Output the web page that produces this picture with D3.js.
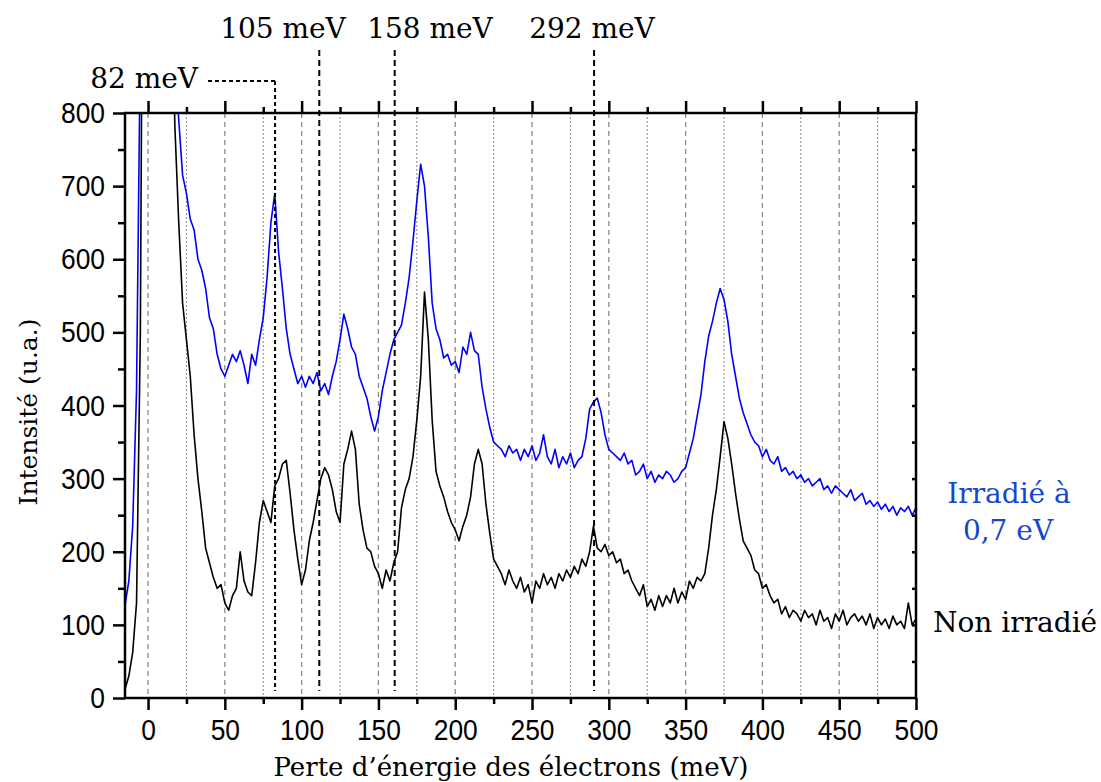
<!DOCTYPE html>
<html><head><meta charset="utf-8">
<script src="https://cdn.jsdelivr.net/npm/d3@7"></script>
<style>body{margin:0;background:#fff}</style>
</head><body>
<script>
// ---- data ----
const energyStep = 2.5;
const energyStart = -15;
const irradie = [127,160,235,420,900,1500,2000,2000,2000,1800,1500,1200,1000,880,790,715,690,655,640,600,585,560,520,505,470,450,440,455,470,460,475,455,430,470,455,490,520,575,650,690,610,560,505,470,450,430,440,425,440,430,445,420,430,415,440,460,490,525,505,480,470,440,425,410,385,365,385,420,445,470,490,500,510,540,575,625,680,730,700,630,540,505,490,465,470,455,460,445,480,470,500,475,470,425,395,370,350,345,340,330,345,335,340,325,340,330,345,325,335,360,330,320,340,315,330,320,335,315,325,330,355,395,405,410,390,360,340,335,330,325,335,320,325,305,310,320,300,310,295,305,300,310,305,295,300,310,315,335,355,385,415,460,495,515,540,560,545,515,470,440,410,390,375,360,350,345,330,340,325,320,330,310,315,305,310,300,305,295,300,290,295,300,285,290,280,290,285,280,275,285,270,275,280,265,270,262,268,258,265,255,262,250,260,255,262,250,260];
const nonIrradie = [12,30,62,130,500,1500,2000,2000,2000,2000,1800,1400,1000,780,650,540,490,440,360,300,255,205,185,165,150,155,130,120,140,150,200,160,145,140,185,240,270,255,240,290,300,320,325,280,230,190,155,175,215,240,270,300,315,305,285,255,240,320,340,365,340,265,230,205,200,180,170,150,175,160,185,200,260,285,300,330,380,440,555,490,380,310,290,275,255,240,230,215,235,250,275,320,340,320,265,225,190,180,170,155,175,160,150,165,145,155,130,160,150,170,155,165,150,170,160,175,165,180,170,190,180,200,235,205,200,210,195,200,185,190,170,175,160,150,140,155,125,135,120,140,125,140,130,150,130,145,135,160,150,165,160,170,205,250,285,330,378,355,320,280,245,215,205,195,175,170,150,155,140,130,135,115,125,110,120,115,105,120,110,115,100,120,105,110,95,115,105,120,100,110,115,105,112,100,115,95,110,100,108,95,112,100,105,95,130,100,108,100];
const xTicks = [0,50,100,150,200,250,300,350,400,450,500];
const yTicks = [0,100,200,300,400,500,600,700,800];
const peakLines = [82.7, 111.5, 160.6, 290.4];
const peakLabels = ["82 meV","105 meV","158 meV","292 meV"];
const seriesNames = ["Irradié à|0,7 eV", "Non irradié"];

// ---- layout ----
const W = 1101, H = 782;
const m = {left:125, right:185, top:113, bottom:84};
const svg = d3.select("body").append("svg").attr("width",W).attr("height",H);
const x = d3.scaleLinear().domain([-15,500]).range([m.left, W-m.right]);
const y = d3.scaleLinear().domain([0,800]).range([H-m.bottom, m.top]);
const x0 = x.range()[0], x1 = x.range()[1], y0 = y.range()[0], y1 = y.range()[1];

svg.append("defs").append("clipPath").attr("id","clip")
  .append("rect").attr("x",x0).attr("y",y1).attr("width",x1-x0).attr("height",y0-y1);

// grid lines
const grid = d3.range(0,500,25);
svg.append("g").selectAll("line").data(grid).join("line")
  .attr("x1",d=>x(d)).attr("x2",d=>x(d)).attr("y1",y1).attr("y2",y0)
  .attr("stroke", d=>d%50===0?"#8a8a8a":"#9a9a9a")
  .attr("stroke-width", d=>d%50===0?1.3:1.2)
  .attr("stroke-dasharray", d=>d%50===0?"5,4":"2,2");

// curves
const line = d3.line().x((d,i)=>x(energyStart+i*energyStep)).y(d=>y(d));
const gc = svg.append("g").attr("clip-path","url(#clip)");
gc.append("path").datum(nonIrradie).attr("d",line).attr("fill","none").attr("stroke","#000").attr("stroke-width",1.6).attr("stroke-linejoin","round");
gc.append("path").datum(irradie).attr("d",line).attr("fill","none").attr("stroke","#0000ff").attr("stroke-width",1.6).attr("stroke-linejoin","round");

// peak lines
const topStart = [81, 50, 50, 50];
peakLines.forEach((v,i)=>{
  svg.append("line").attr("x1",x(v)).attr("x2",x(v)).attr("y1",topStart[i]).attr("y2",y0-7)
    .attr("stroke","#000").attr("stroke-width",2).attr("stroke-dasharray", i===0?"4,3":"6,4");
});
svg.append("line").attr("x1",208).attr("x2",x(peakLines[0])).attr("y1",81).attr("y2",81)
  .attr("stroke","#000").attr("stroke-width",1.8).attr("stroke-dasharray","4,3");

const serif = "'DejaVu Serif', serif";
const labelPos = [[198,88,"end"],[283,38,"middle"],[430,38,"middle"],[592,38,"middle"]];
peakLabels.forEach((t,i)=>{
  svg.append("text").attr("x",labelPos[i][0]).attr("y",labelPos[i][1]).attr("text-anchor",labelPos[i][2])
    .attr("font-family",serif).attr("font-size",28).text(t);
});

// axes
const sans = "'Liberation Sans',Arial,sans-serif";
const minorX = d3.range(25,500,50);
const minorY = d3.range(50,800,100);
function drawAxis(g){ g.selectAll(".domain").remove(); g.selectAll("line").attr("stroke","#000").attr("stroke-width",2.5); }
const gb = svg.append("g").attr("transform",`translate(0,${y0})`);
gb.call(d3.axisBottom(x).tickValues(xTicks).tickSize(12).tickPadding(9).tickFormat(d3.format("d"))).call(drawAxis);
gb.selectAll("text").attr("font-family",sans).attr("font-size",30).attr("fill","#000").attr("transform","scale(0.88,1)");
gb.append("g").call(d3.axisBottom(x).tickValues(minorX).tickSize(6).tickFormat("")).call(drawAxis);
const gt = svg.append("g").attr("transform",`translate(0,${y1})`);
gt.call(d3.axisTop(x).tickValues(xTicks).tickSize(12).tickFormat("")).call(drawAxis);
gt.append("g").call(d3.axisTop(x).tickValues(minorX).tickSize(6).tickFormat("")).call(drawAxis);
const gl = svg.append("g").attr("transform",`translate(${x0},0)`);
gl.call(d3.axisLeft(y).tickValues(yTicks).tickSize(12).tickPadding(8).tickFormat(d3.format("d"))).call(drawAxis);
gl.selectAll("text").attr("font-family",sans).attr("font-size",30).attr("fill","#000")
  .attr("transform","scale(0.88,1)").attr("x",-20/0.88);
gl.append("g").call(d3.axisLeft(y).tickValues(minorY).tickSize(7).tickFormat("")).call(drawAxis);
const gr = svg.append("g").attr("transform",`translate(${x1},0)`);
gr.call(d3.axisRight(y).tickValues(d3.range(50,800,50)).tickSize(-4).tickFormat("")).call(drawAxis);

// frame
svg.append("rect").attr("x",x0).attr("y",y1).attr("width",x1-x0).attr("height",y0-y1)
  .attr("fill","none").attr("stroke","#000").attr("stroke-width",2.5);

// axis titles
svg.append("text").attr("x",511).attr("y",776).attr("text-anchor","middle")
  .attr("font-family",serif).attr("font-size",26).text("Perte d’énergie des électrons (meV)");
svg.append("text").attr("transform",`translate(37,412) rotate(-90)`).attr("text-anchor","middle")
  .attr("font-family",serif).attr("font-size",25).text("Intensité (u.a.)");

// series labels
const [l1,l2] = seriesNames[0].split("|");
svg.append("text").attr("x",1009).attr("y",503).attr("text-anchor","middle").attr("font-family",serif)
  .attr("font-size",28).attr("fill","#1646d0").text(l1);
svg.append("text").attr("x",1008).attr("y",540).attr("text-anchor","middle").attr("font-family",serif)
  .attr("font-size",28).attr("fill","#1646d0").text(l2);
svg.append("text").attr("x",933).attr("y",632).attr("font-family",serif)
  .attr("font-size",28).attr("fill","#000").text(seriesNames[1]);
</script>
</body></html>
